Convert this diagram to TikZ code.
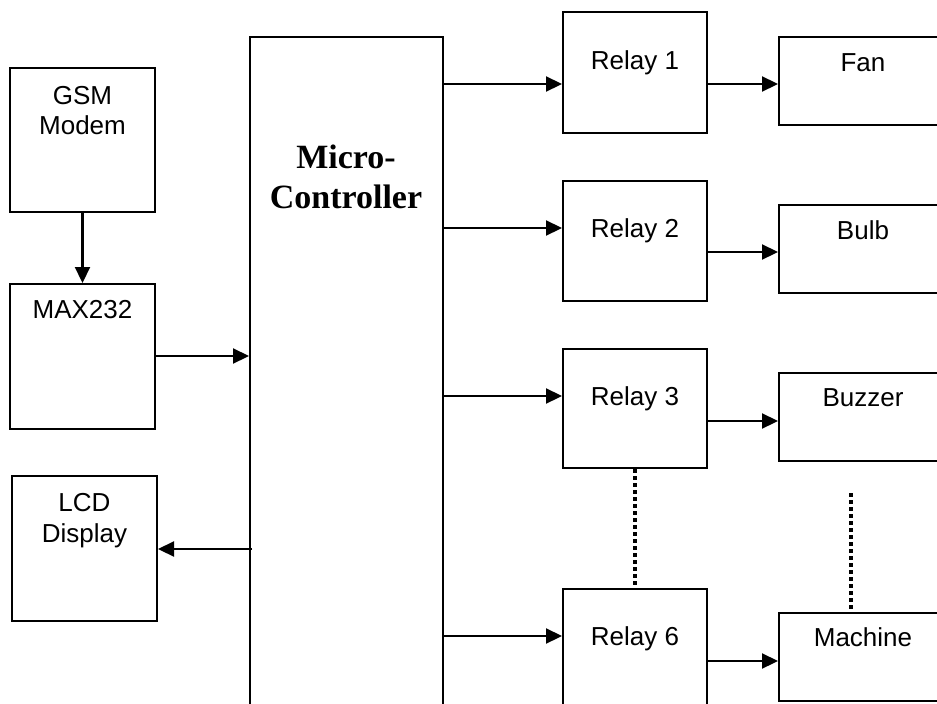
\documentclass[tikz,border=0pt]{standalone}
\usepackage{fontspec}
\setmainfont{Liberation Sans}
\newfontfamily\serifbf{Liberation Serif}
\usetikzlibrary{arrows.meta}
\tikzset{
  box/.style={draw=black, line width=2pt, inner sep=0pt, fill=none},
  lbl/.style={anchor=base, inner sep=0pt, font=\fontsize{26pt}{30pt}\selectfont},
  mclbl/.style={anchor=base, inner sep=0pt, font=\serifbf\bfseries\fontsize{34pt}{40pt}\selectfont},
  arr/.style={line width=2.2pt, -{Triangle[length=16pt,width=15pt]}},
  dots/.style={line width=3.2pt, dash pattern=on 4pt off 3pt}
}
\begin{document}
\begin{tikzpicture}[x=1pt,y=-1pt]
\useasboundingbox (0,0) rectangle (937,704);
\clip (0,0) rectangle (937,704);
% left column
\node[box, minimum width=145pt, minimum height=144pt] (gsm) at (82.5,140) {};
\node[lbl] (gsmt1) at (82.5,104) {GSM};
\node[lbl] (gsmt2) at (82.5,134) {Modem};
\node[box, minimum width=145pt, minimum height=145pt] (max) at (82.5,356.5) {};
\node[lbl] (maxt) at (82.5,318) {MAX232};
\node[box, minimum width=145pt, minimum height=145pt] (lcd) at (84.5,548.5) {};
\node[lbl] (lcdt1) at (84.5,511) {LCD};
\node[lbl] (lcdt2) at (84.5,542) {Display};
% microcontroller
\node[box, minimum width=193pt, minimum height=700pt] (mc) at (346.5,387) {};
\node[mclbl] (mct1) at (346,168) {Micro-};
\node[mclbl] (mct2) at (346,208) {Controller};
% relays
\node[box, minimum width=144pt, minimum height=121pt] (r1) at (635,72.5) {};
\node[lbl] (r1t) at (635,69) {Relay 1};
\node[box, minimum width=144pt, minimum height=120pt] (r2) at (635,241) {};
\node[lbl] (r2t) at (635,237) {Relay 2};
\node[box, minimum width=144pt, minimum height=119pt] (r3) at (635,408.5) {};
\node[lbl] (r3t) at (635,405) {Relay 3};
\node[box, minimum width=144pt, minimum height=160pt] (r6) at (635,669) {};
\node[lbl] (r6t) at (635,645) {Relay 6};
% devices
\node[box, minimum width=200pt, minimum height=88pt] (fan) at (879,81) {};
\node[lbl] (fant) at (863,71) {Fan};
\node[box, minimum width=200pt, minimum height=88pt] (bulb) at (879,249) {};
\node[lbl] (bulbt) at (863,239) {Bulb};
\node[box, minimum width=200pt, minimum height=88pt] (buzz) at (879,417) {};
\node[lbl] (buzzt) at (863,406) {Buzzer};
\node[box, minimum width=200pt, minimum height=88pt] (mach) at (879,657) {};
\node[lbl] (macht) at (863,646) {Machine};
% connectors
\draw[arr] (gsm.south) -- (max.north);
\draw[arr] (max.east |- 0,356) -- (mc.west |- 0,356);
\draw[arr] ([xshift=3pt]mc.west |- 0,549) -- (lcd.east |- 0,549);
\draw[arr] (mc.east |- 0,84) -- (r1.west |- 0,84);
\draw[arr] (mc.east |- 0,228) -- (r2.west |- 0,228);
\draw[arr] (mc.east |- 0,396) -- (r3.west |- 0,396);
\draw[arr] (mc.east |- 0,636) -- (r6.west |- 0,636);
\draw[arr] (r1.east |- 0,84) -- (fan.west |- 0,84);
\draw[arr] (r2.east |- 0,252) -- (bulb.west |- 0,252);
\draw[arr] (r3.east |- 0,421) -- (buzz.west |- 0,421);
\draw[arr] (r6.east |- 0,661) -- (mach.west |- 0,661);
% dotted continuation
\draw[dots] (r3.south) -- (r6.north);
\coordinate (dtop) at (851,493);
\draw[dots] (dtop) -- (dtop |- mach.north);
\end{tikzpicture}
\end{document}
